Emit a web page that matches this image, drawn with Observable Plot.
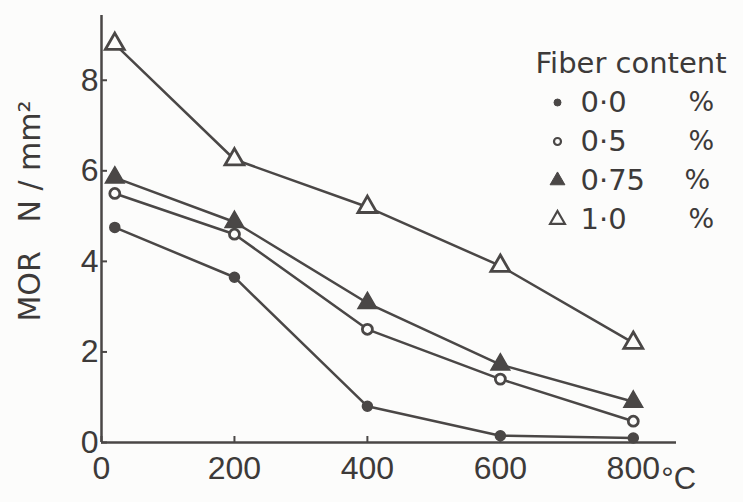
<!DOCTYPE html>
<html>
<head>
<meta charset="utf-8">
<script src="https://cdn.jsdelivr.net/npm/d3@7"></script>
<script src="https://cdn.jsdelivr.net/npm/@observablehq/plot@0.6"></script>
<style>
  html, body { margin: 0; padding: 0; background: #fcfcfb; }
  #chart svg { display: block; }
</style>
</head>
<body>
<div id="chart"></div>
<script>
// Temperatures (°C) at which MOR was measured
const temps = [20, 200, 400, 600, 800];
// MOR (N/mm²) for each fibre content
const mor00 = [4.75, 3.65, 0.8, 0.15, 0.1];
const mor05 = [5.5, 4.6, 2.5, 1.4, 0.47];
const mor075 = [5.85, 4.87, 3.08, 1.72, 0.9];
const mor10 = [8.8, 6.25, 5.2, 3.9, 2.2];

const seriesLabels = ["0·0", "0·5", "0·75", "1·0"];
const seriesValues = [mor00, mor05, mor075, mor10];
const xTicks = [0, 200, 400, 600, 800];
const yTicks = [0, 2, 4, 6, 8];
const legendTitle = "Fiber content";
const percentSign = "%";
const yLabel = "MOR\u00a0\u00a0\u00a0N / mm²";
const xUnit = "°C";

const ink = "#4a4746";
const textInk = "#3d3a39";
const paper = "#fcfcfb";
const symbols = ["circle", "circle", "triangle", "triangle"];
const fills = [ink, paper, ink, paper];
const radii = [5, 5, 7, 7];

const data = seriesValues.flatMap((vals, i) =>
  temps.map((t, j) => ({series: seriesLabels[i], idx: i, temp: t, mor: vals[j]})));

const font = "DejaVu Sans, sans-serif";
const tickFont = "Liberation Sans, Arial, sans-serif";

const marks = [
  Plot.ruleX([0], {stroke: ink, strokeWidth: 2.5}),
  Plot.ruleY([0], {stroke: ink, strokeWidth: 2.5}),
  Plot.axisY({ticks: yTicks, label: null, tickSize: -6, tickPadding: 9, stroke: ink, strokeWidth: 2, fontSize: 32, fontFamily: tickFont, fill: textInk, tickFormat: d => d}),
  Plot.axisX({ticks: xTicks, label: null, tickSize: -6, tickPadding: 20, stroke: ink, strokeWidth: 2, fontSize: 32, fontFamily: tickFont, fill: textInk, tickFormat: d => d}),
  Plot.text([xTicks[xTicks.length - 1]], {x: d => d, y: () => yTicks[0], text: () => xUnit, textAnchor: "start", dx: 28, dy: 37, fontSize: 31, fontFamily: tickFont, fill: textInk}),
  Plot.text([yLabel], {frameAnchor: "left", textAnchor: "middle", lineAnchor: "middle", rotate: -90, dx: -71, dy: -18, fontSize: 30, fill: textInk}),
  Plot.line(data, {x: "temp", y: "mor", z: "series", stroke: ink, strokeWidth: 2.5}),
  ...seriesLabels.map((s, i) => Plot.dot(data.filter(d => d.idx === i), {
    x: "temp", y: "mor", symbol: () => symbols[i], r: radii[i],
    fill: fills[i], stroke: ink, strokeWidth: i % 2 ? 2.8 : 1.5
  })),
  Plot.text([legendTitle], {frameAnchor: "top-left", dx: 434, dy: 48, textAnchor: "start", lineAnchor: "middle", fontSize: 29, fill: textInk, style: "letter-spacing:2.5px"}),
  ...seriesLabels.map((s, i) => Plot.dot([s], {
    frameAnchor: "top-left", dx: 456, dy: 87 + 39 * i, symbol: () => symbols[i], r: radii[i] - 1.5,
    fill: fills[i], stroke: ink, strokeWidth: i % 2 ? 2.2 : 1
  })),
  ...seriesLabels.map((s, i) => Plot.text([s], {
    frameAnchor: "top-left", dx: 479, dy: 87 + 39 * i, textAnchor: "start", lineAnchor: "middle", fontSize: 29, fill: textInk, style: "letter-spacing:3px"
  })),
  ...seriesLabels.map((s, i) => Plot.text([percentSign], {
    frameAnchor: "top-left", dx: i === 2 ? 583 : 587, dy: 87 + 39 * i, textAnchor: "start", lineAnchor: "middle", fontSize: 27, fill: textInk
  }))
];

const chart = Plot.plot({
  width: 743,
  height: 502,
  marginLeft: 101,
  marginRight: 67,
  marginTop: 15,
  marginBottom: 60,
  style: {fontFamily: font, background: paper, color: textInk},
  x: {domain: [0, 865], axis: null},
  y: {domain: [0, 9.43], axis: null},
  symbol: {type: "identity"},
  marks
});
document.getElementById("chart").append(chart);
</script>
</body>
</html>
